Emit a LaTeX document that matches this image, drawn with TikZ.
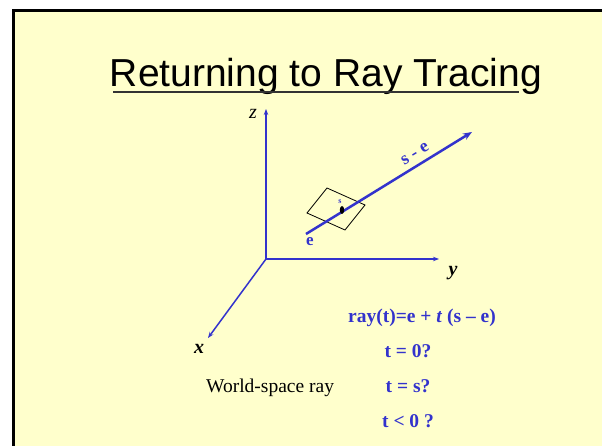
\documentclass[tikz,border=0pt]{standalone}
\usepackage{fontspec}
\setmainfont{Liberation Serif}
\newfontfamily\arialfont{Liberation Sans}
\usetikzlibrary{arrows.meta}
\definecolor{slidebg}{RGB}{255,255,204}
\definecolor{rayblue}{RGB}{51,51,204}
\tikzset{
  axis/.style={draw=rayblue, line width=1.5pt, -{Stealth[length=6pt,width=4.5pt]}},
  rayline/.style={draw=rayblue, line width=2.5pt, -{Stealth[length=9pt,width=7pt]}},
  axlabel/.style={font=\fontsize{20}{20}\selectfont\bfseries\itshape, inner sep=0pt, anchor=base},
  bluetxt/.style={font=\fontsize{19.5}{20}\selectfont\bfseries, text=rayblue, inner sep=0pt, anchor=base},
}
\begin{document}
\begin{tikzpicture}[x=1pt,y=-1pt]
\useasboundingbox (0,0) rectangle (602,446);
\clip (0,0) rectangle (602,446);
\fill[white] (0,0) rectangle (602,446);
\draw[line width=2.5pt, fill=slidebg] (13.5,10.5) rectangle (620,470);
% title
\node[font=\arialfont\fontsize{39}{39}\selectfont, inner sep=0pt, anchor=base] (title) at (326,87) {Returning to Ray Tracing};
\coordinate (ul1) at (113,92);
\coordinate (ul2) at (519,92);
\draw[line width=1.3pt, black!80] (ul1) -- (ul2);
% axes
\coordinate (O) at (266,259);
\coordinate (Z) at (266,109);
\coordinate (Y) at (439,259);
\coordinate (X) at (208,338);
\draw[axis] (O) -- (Z);
\draw[axis] (O) -- (Y);
\draw[axis] (O) -- (X);
\node[axlabel, font=\fontsize{20}{20}\selectfont\itshape] (zl) at (253,119) {z};
\node[axlabel] (yl) at (453,276) {y};
\node[axlabel] (xl) at (199,353) {x};
% image plane square
\coordinate (p1) at (327,188);
\coordinate (p2) at (365,205);
\coordinate (p3) at (345,230);
\coordinate (p4) at (307,213);
\draw[line width=0.8pt] (p1) -- (p2) -- (p3) -- (p4) -- cycle;
% ray
\coordinate (E) at (306,234);
\coordinate (T) at (472,132);
\draw[rayline] (E) -- (T);
\fill[black] (342,210) ellipse (2.2pt and 4pt);
\node[font=\fontsize{8}{8}\selectfont\bfseries, text=rayblue, inner sep=0pt] (sl) at (340,202) {s};
\node[font=\fontsize{17}{17}\selectfont\bfseries, text=rayblue, inner sep=0pt] (el) at (310,242) {e};
\node[font=\fontsize{18}{18}\selectfont\bfseries, text=rayblue, inner sep=0pt, rotate=31] (sel) at (415,154) {s - e};
% formulas
\node[bluetxt] (f1) at (422,322) {ray(t)=e + \textit{t} (s -- e)};
\node[bluetxt] (f2) at (408,357) {t = 0?};
\node[bluetxt] (f3) at (408,392) {t = s?};
\node[bluetxt] (f4) at (408,427) {t < 0 ?};
\node[font=\fontsize{19.5}{20}\selectfont, inner sep=0pt, anchor=base west] (ws) at (206,392) {World-space ray};
\end{tikzpicture}
\end{document}
